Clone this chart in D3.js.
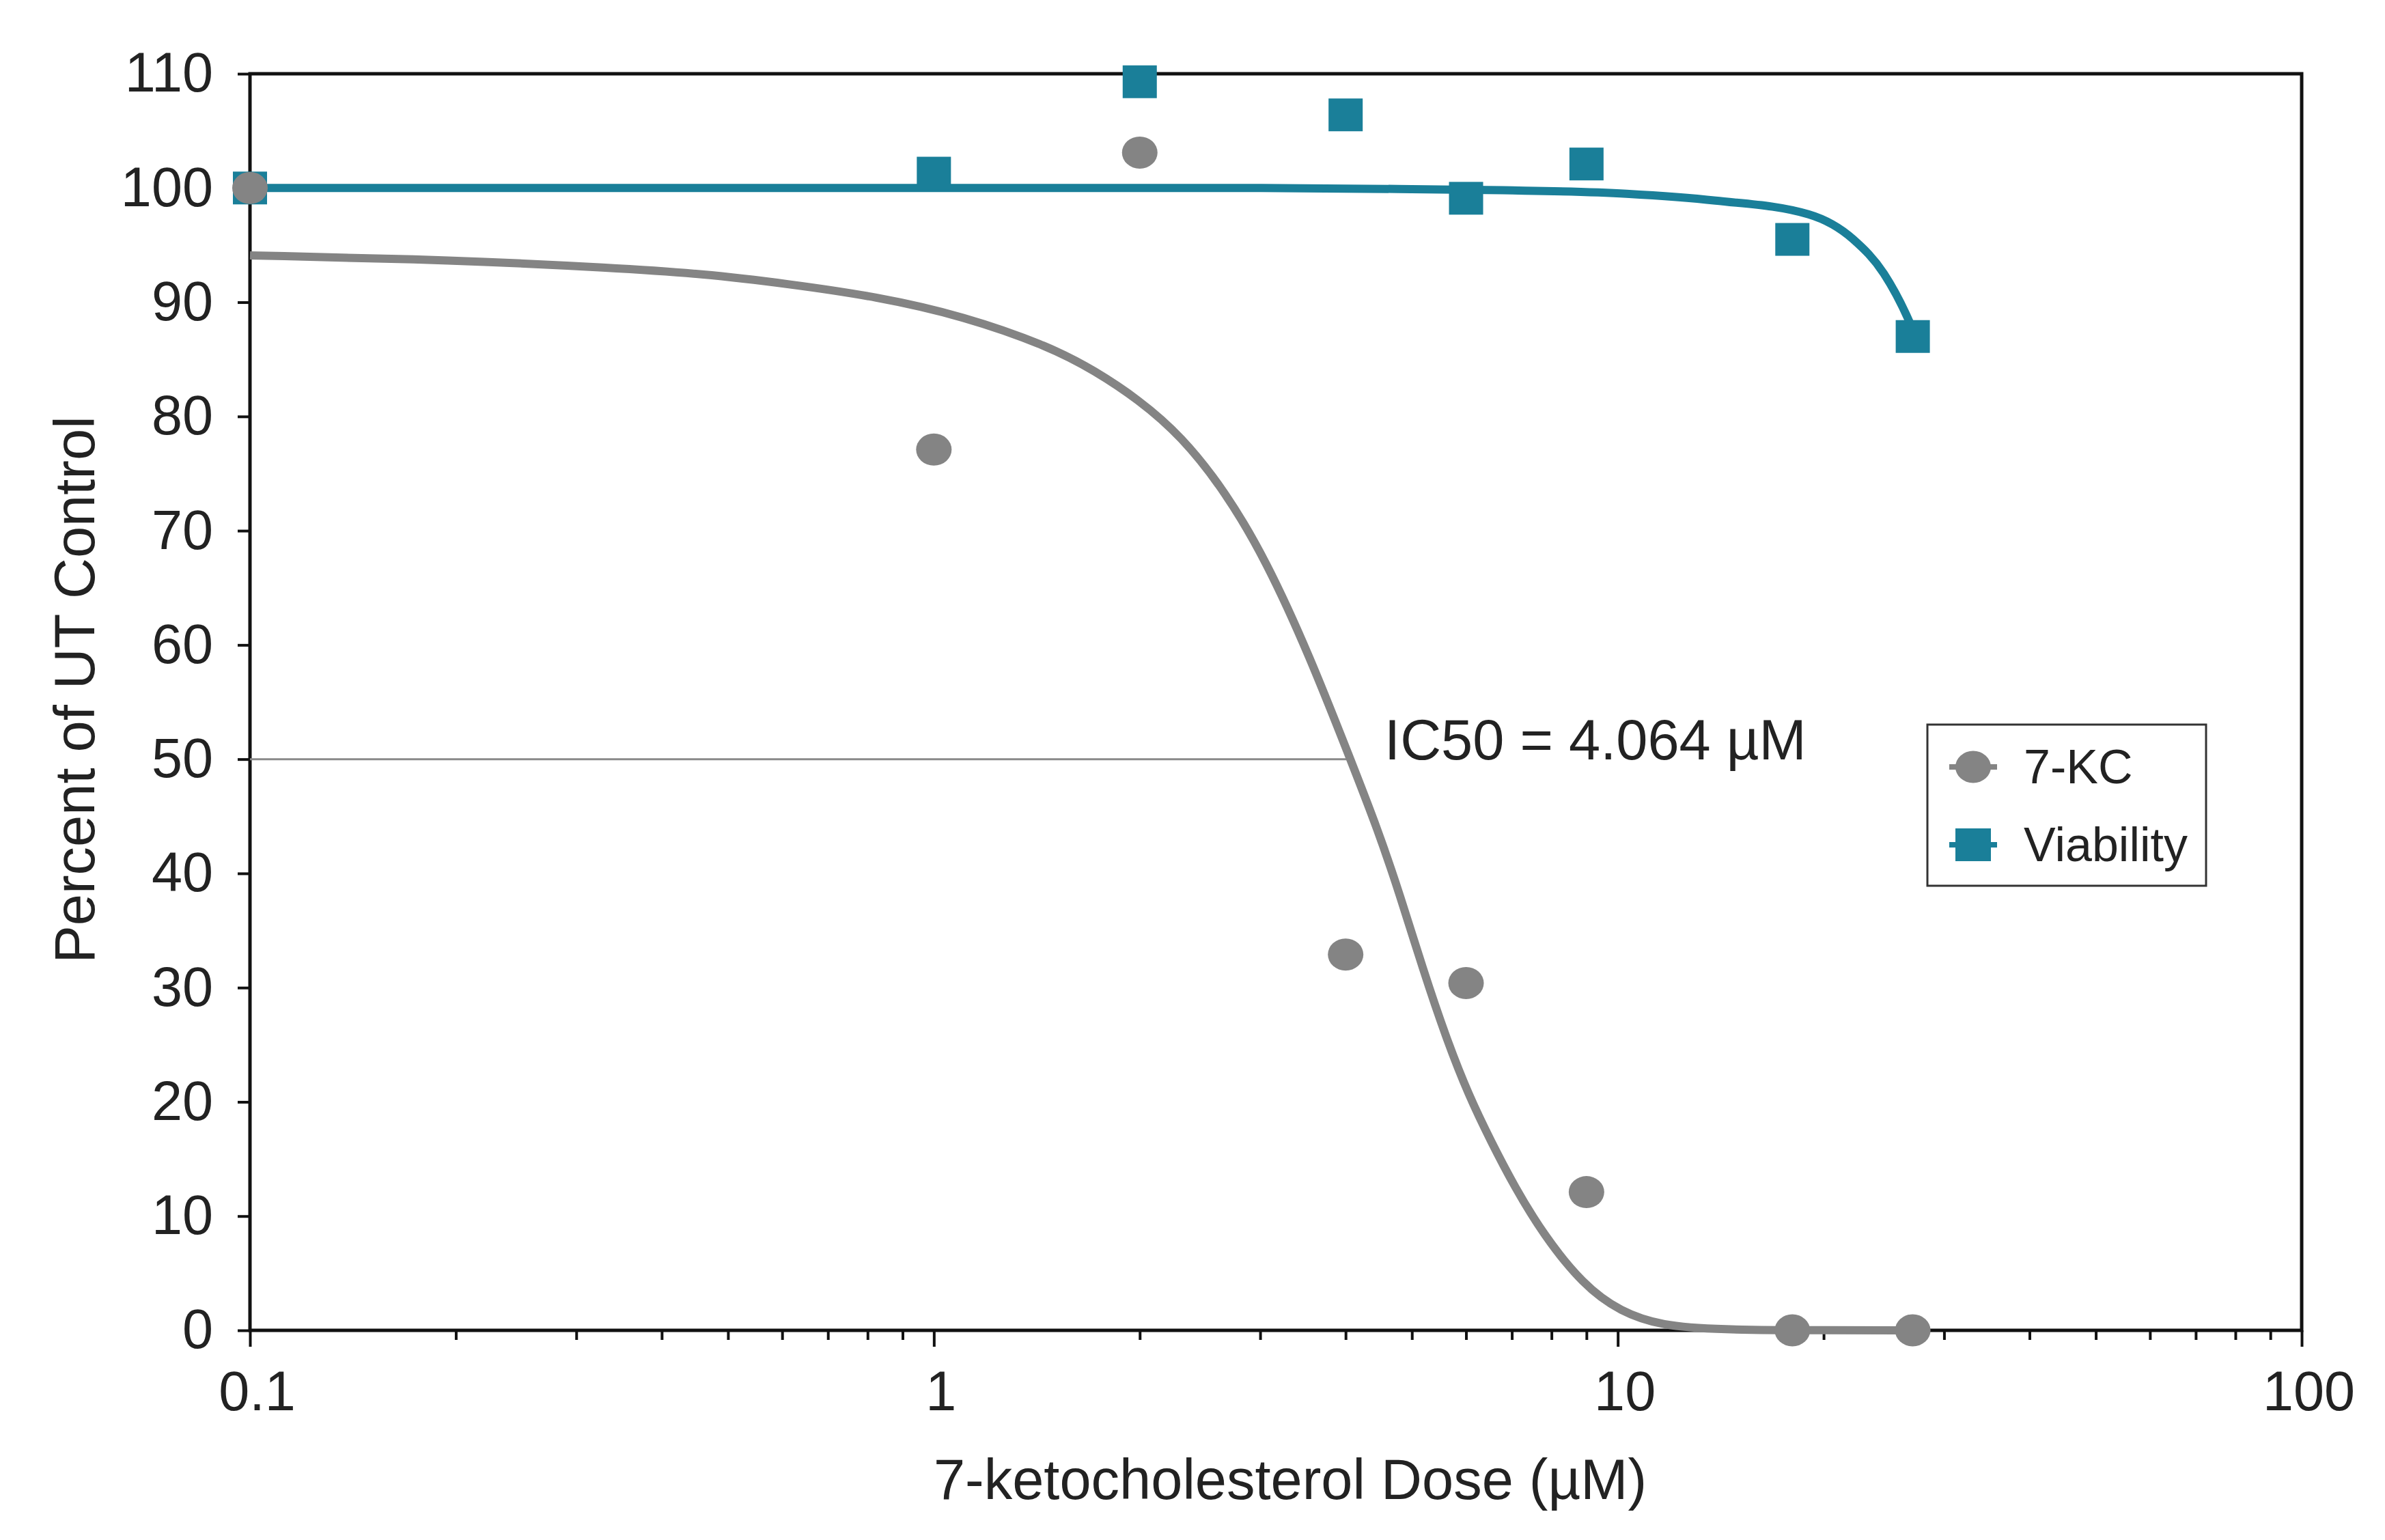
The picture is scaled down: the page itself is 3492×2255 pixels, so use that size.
<!DOCTYPE html>
<html>
<head>
<meta charset="utf-8">
<script src="https://cdn.jsdelivr.net/npm/d3@7"></script>
<style>
  body { margin: 0; background: #fff; }
  svg { display: block; }
  text { font-family: "Liberation Sans", Arial, sans-serif; fill: #222; }
</style>
</head>
<body>
<svg id="chart" width="3492" height="2255"></svg>
<script>
// measured doses (uM) and responses (% of UT control)
var doses = [0.1, 1, 2, 4, 6, 9, 18, 27];
var kcPct = [100, 77.1, 103.1, 32.9, 30.4, 12.1, 0, 0];
var viaPct = [100, 101.3, 109.3, 106.4, 99.1, 102.1, 95.5, 87.0];

// fitted curves
var kcFitDose = [0.1, 0.2, 0.341, 0.458, 0.614, 0.824, 1.104, 1.48, 1.72, 1.99, 2.30, 2.67, 3.06, 3.54, 4.064,
                 4.46, 4.81, 5.19, 5.61, 6.05, 6.53, 7.06, 7.78, 8.89, 10.1, 11.6, 14, 20, 27];
var kcFitPct  = [94.1, 93.7, 93.0, 92.5, 91.6, 90.5, 88.8, 86.1, 84.0, 81.5, 78.3, 73.4, 67.4, 59.1, 50.0,
                 43.8, 38.0, 31.6, 25.6, 20.6, 16.5, 12.6, 8.4, 4.0, 1.6, 0.4, 0.05, 0, 0];
var viaFitDose = [0.1, 1, 3, 5, 6.8, 10.3, 13.9, 19, 22.1, 24.5, 26.6, 27];
var viaFitPct  = [100, 100, 100, 99.9, 99.8, 99.5, 98.9, 97.7, 95.5, 92.5, 88.5, 87.6];

var ic50 = 4.064;
var yTicks = [0, 10, 20, 30, 40, 50, 60, 70, 80, 90, 100, 110];
var xMajor = [0.1, 1, 10, 100];
var seriesNames = ["7-KC", "Viability"];

var gray = "#848484", teal = "#1a7f99";

var svg = d3.select("#chart");
svg.append("rect").attr("width", 3492).attr("height", 2255).attr("fill", "#fff");

var x = d3.scaleLog().domain([0.1, 100]).range([366, 3370]);
var y = d3.scaleLinear().domain([0, 110]).range([1948, 108]);

// frame
svg.append("rect")
  .attr("x", x(0.1)).attr("y", y(110))
  .attr("width", x(100) - x(0.1)).attr("height", y(0) - y(110))
  .attr("fill", "none").attr("stroke", "#111").attr("stroke-width", 5);

// x axis, major + minor ticks
var xAxisG = svg.append("g").attr("transform", "translate(0," + y(0) + ")")
  .call(d3.axisBottom(x).tickValues(xMajor).tickFormat(d3.format("~g"))
    .tickSize(24).tickPadding(35));
var minor = x.ticks().filter(function(d) { return xMajor.indexOf(d) < 0; });
var xMinorG = svg.append("g").attr("transform", "translate(0," + y(0) + ")")
  .call(d3.axisBottom(x).tickValues(minor).tickFormat("").tickSize(14));

// y axis
var yAxisG = svg.append("g").attr("transform", "translate(" + x(0.1) + ",0)")
  .call(d3.axisLeft(y).tickValues(yTicks).tickSize(18).tickPadding(36));

[xAxisG, xMinorG, yAxisG].forEach(function(g) {
  g.select(".domain").remove();
  g.selectAll(".tick line").attr("stroke", "#111").attr("stroke-width", 4);
  g.selectAll(".tick text").attr("font-size", 81).style("fill", "#222")
    .attr("font-family", "Liberation Sans, Arial, sans-serif");
});
xAxisG.selectAll(".tick text").attr("dx", 10);

// titles
svg.append("text")
  .attr("x", (x(0.1) + x(100)) / 2 + 21).attr("y", 2195)
  .attr("text-anchor", "middle").attr("font-size", 83)
  .text("7-ketocholesterol Dose (µM)");
svg.append("text")
  .attr("transform", "translate(138," + 1010 + ") rotate(-90)")
  .attr("text-anchor", "middle").attr("font-size", 83)
  .text("Percent of UT Control");

// IC50 guide line + label
svg.append("line")
  .attr("x1", x(0.1)).attr("x2", x(ic50))
  .attr("y1", y(50)).attr("y2", y(50))
  .attr("stroke", "#8a8a8a").attr("stroke-width", 3);
svg.append("text")
  .attr("x", x(ic50) + 50).attr("y", y(50))
  .attr("font-size", 83)
  .text("IC50 = " + ic50 + " µM");

// fit curves
var line = d3.line()
  .x(function(d) { return x(d[0]); })
  .y(function(d) { return y(d[1]); })
  .curve(d3.curveBasis);

svg.append("path")
  .datum(d3.zip(kcFitDose, kcFitPct))
  .attr("d", line).attr("fill", "none")
  .attr("stroke", gray).attr("stroke-width", 12);
svg.append("path")
  .datum(d3.zip(viaFitDose, viaFitPct))
  .attr("d", line.curve(d3.curveMonotoneX)).attr("fill", "none")
  .attr("stroke", teal).attr("stroke-width", 12);

// markers: squares first so the circle sits on top at 0.1
var sq = 50;
svg.append("g").selectAll("rect")
  .data(d3.zip(doses, viaPct))
  .enter().append("rect")
  .attr("x", function(d) { return x(d[0]) - sq / 2; })
  .attr("y", function(d) { return y(d[1]) - 24; })
  .attr("width", sq).attr("height", 48)
  .attr("fill", teal);

svg.append("g").selectAll("ellipse")
  .data(d3.zip(doses, kcPct))
  .enter().append("ellipse")
  .attr("cx", function(d) { return x(d[0]); })
  .attr("cy", function(d) { return y(d[1]); })
  .attr("rx", 26).attr("ry", 23.5)
  .attr("fill", gray);

// legend
var lg = svg.append("g").attr("transform", "translate(2822,1061)");
lg.append("rect").attr("width", 408).attr("height", 236)
  .attr("fill", "#fff").attr("stroke", "#333").attr("stroke-width", 3);

var items = lg.selectAll(".item").data(seriesNames)
  .enter().append("g")
  .attr("transform", function(d, i) { return "translate(67," + (62 + i * 114) + ")"; });
items.append("line")
  .attr("x1", -35).attr("x2", 35)
  .attr("stroke", function(d, i) { return i === 0 ? gray : teal; })
  .attr("stroke-width", 8);
items.filter(function(d, i) { return i === 0; })
  .append("ellipse").attr("rx", 26).attr("ry", 23.5).attr("fill", gray);
items.filter(function(d, i) { return i === 1; })
  .append("rect").attr("x", -26).attr("y", -24).attr("width", 52).attr("height", 48)
  .attr("fill", teal);
items.append("text")
  .attr("x", 74).attr("y", 24)
  .attr("font-size", 70)
  .text(function(d) { return d; });
</script>
</body>
</html>
